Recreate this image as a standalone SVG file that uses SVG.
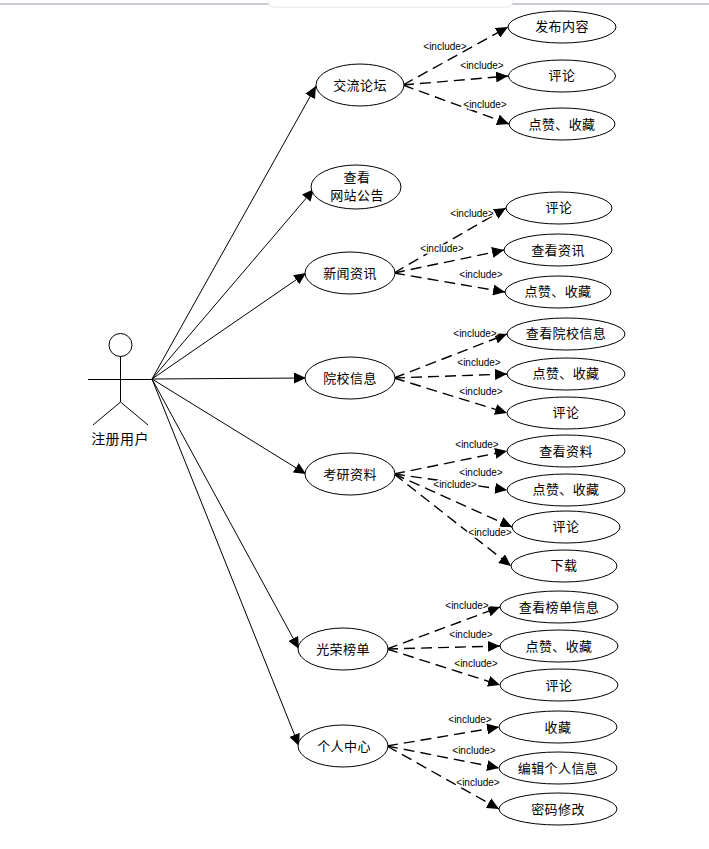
<svg xmlns="http://www.w3.org/2000/svg" width="709" height="849" viewBox="0 0 709 849">
<style>
.n{fill:#fff;stroke:#000;stroke-width:1}
.t{font:13px "Noto Sans CJK SC","Liberation Sans",sans-serif;text-anchor:middle;fill:#000;letter-spacing:.4px}
.i{font:10px "Liberation Sans",sans-serif;text-anchor:middle;fill:#000;stroke:#fff;stroke-width:3px;paint-order:stroke}
.a{fill:none;stroke:#000;stroke-width:1;marker-end:url(#m)}
.d{fill:none;stroke:#000;stroke-width:1.400;stroke-dasharray:11 6;marker-end:url(#m)}
.s{fill:none;stroke:#000;stroke-width:1}
</style>
<defs><marker id="m" markerUnits="userSpaceOnUse" markerWidth="13" markerHeight="11" refX="12" refY="5.500" orient="auto"><path d="M0 0L12 5.500L0 11Z" fill="#000"/></marker></defs>
<rect width="709" height="849" fill="#fff"/>
<g id="chrome"><rect x="0" y="3" width="709" height="2" fill="#c8ccd2"/><rect x="268" y="-10" width="245" height="18" rx="6" fill="#eee"/><rect x="269" y="-10" width="243" height="16.500" rx="5" fill="#fff"/></g>
<g id="connectors">
<path class="a" d="M152 379L316 86"/><path class="a" d="M152 379L314 189"/><path class="a" d="M152 379L306 273"/><path class="a" d="M152 379L306 378"/><path class="a" d="M152 379L306 474"/><path class="a" d="M152 379L299 649"/><path class="a" d="M152 379L299 746"/>
<path class="d" d="M403 85L508 27"/><path class="d" d="M403 85L508 76"/><path class="d" d="M403 85L509 124"/>
<path class="d" d="M394 273L506 208"/><path class="d" d="M394 273L504 250"/><path class="d" d="M394 273L505 292"/>
<path class="d" d="M394 378L507 334"/><path class="d" d="M394 378L507 374"/><path class="d" d="M394 378L507 413"/>
<path class="d" d="M394 474L507 451"/><path class="d" d="M394 474L507 490"/><path class="d" d="M394 474L512 527"/><path class="d" d="M394 474L511 566"/>
<path class="d" d="M387 649L500 607"/><path class="d" d="M387 649L500 646"/><path class="d" d="M387 649L500 685"/>
<path class="d" d="M387 746L499 727"/><path class="d" d="M387 746L499 768"/><path class="d" d="M387 746L499 809"/>
<g><text class="i" x="445" y="50">&lt;include&gt;</text><text class="i" x="482" y="69">&lt;include&gt;</text><text class="i" x="485" y="108">&lt;include&gt;</text>
<text class="i" x="472" y="217">&lt;include&gt;</text><text class="i" x="442" y="252">&lt;include&gt;</text><text class="i" x="481" y="278">&lt;include&gt;</text>
<text class="i" x="475" y="337">&lt;include&gt;</text><text class="i" x="479" y="366">&lt;include&gt;</text><text class="i" x="481" y="395">&lt;include&gt;</text>
<text class="i" x="477" y="448">&lt;include&gt;</text><text class="i" x="481" y="476">&lt;include&gt;</text><text class="i" x="455" y="488">&lt;include&gt;</text><text class="i" x="490" y="536">&lt;include&gt;</text>
<text class="i" x="467" y="609">&lt;include&gt;</text><text class="i" x="471" y="638">&lt;include&gt;</text><text class="i" x="476" y="667">&lt;include&gt;</text>
<text class="i" x="470" y="723">&lt;include&gt;</text><text class="i" x="474" y="754">&lt;include&gt;</text><text class="i" x="478" y="786">&lt;include&gt;</text></g>
</g>
<g id="actor"><circle class="s" cx="120.500" cy="345" r="11.500"/><path class="s" d="M120.500 356V402M88 379.500H152M120.500 402L93 425M120.500 402L148 425"/><text class="t" x="120" y="444" style="font-size:14px">注册用户</text></g>
<g id="n1"><ellipse class="n" cx="360" cy="85" rx="44" ry="21"/><text class="t" x="360" y="90">交流论坛</text></g>
<g id="n2"><ellipse class="n" cx="356" cy="187" rx="45" ry="22"/><text class="t" x="357" y="182">查看</text><text class="t" x="357" y="200">网站公告</text></g>
<g id="n3"><ellipse class="n" cx="350" cy="273" rx="45" ry="21"/><text class="t" x="350" y="278">新闻资讯</text></g>
<g id="n4"><ellipse class="n" cx="350" cy="378" rx="45" ry="21"/><text class="t" x="350" y="383">院校信息</text></g>
<g id="n5"><ellipse class="n" cx="350" cy="474" rx="45" ry="21"/><text class="t" x="350" y="479">考研资料</text></g>
<g id="n6"><ellipse class="n" cx="343" cy="649" rx="45" ry="21"/><text class="t" x="343" y="654">光荣榜单</text></g>
<g id="n7"><ellipse class="n" cx="343" cy="746" rx="45" ry="21"/><text class="t" x="344" y="751">个人中心</text></g>
<g id="a1"><ellipse class="n" cx="562" cy="27" rx="54" ry="16"/><text class="t" x="562" y="31">发布内容</text></g>
<g id="a2"><ellipse class="n" cx="562" cy="76" rx="53.500" ry="16"/><text class="t" x="562" y="80">评论</text></g>
<g id="a3"><ellipse class="n" cx="562" cy="124" rx="53" ry="16"/><text class="t" x="562" y="129">点赞、收藏</text></g>
<g id="b1"><ellipse class="n" cx="559" cy="208" rx="53" ry="16"/><text class="t" x="559" y="212">评论</text></g>
<g id="b2"><ellipse class="n" cx="558" cy="250" rx="54" ry="16"/><text class="t" x="558" y="255">查看资讯</text></g>
<g id="b3"><ellipse class="n" cx="558" cy="292" rx="53" ry="16"/><text class="t" x="558" y="296">点赞、收藏</text></g>
<g id="c1"><ellipse class="n" cx="566" cy="334" rx="59" ry="16"/><text class="t" x="566" y="338">查看院校信息</text></g>
<g id="c2"><ellipse class="n" cx="566" cy="374" rx="59" ry="16"/><text class="t" x="566" y="378">点赞、收藏</text></g>
<g id="c3"><ellipse class="n" cx="566" cy="413" rx="59" ry="16"/><text class="t" x="566" y="417">评论</text></g>
<g id="d1"><ellipse class="n" cx="566" cy="451" rx="59" ry="16"/><text class="t" x="566" y="456">查看资料</text></g>
<g id="d2"><ellipse class="n" cx="566" cy="490" rx="59" ry="16"/><text class="t" x="566" y="494">点赞、收藏</text></g>
<g id="d3"><ellipse class="n" cx="566" cy="527" rx="54" ry="16"/><text class="t" x="566" y="531">评论</text></g>
<g id="d4"><ellipse class="n" cx="564" cy="566" rx="53" ry="16"/><text class="t" x="564" y="570">下载</text></g>
<g id="e1"><ellipse class="n" cx="559" cy="607" rx="59" ry="16"/><text class="t" x="559" y="612">查看榜单信息</text></g>
<g id="e2"><ellipse class="n" cx="559" cy="646" rx="59" ry="16"/><text class="t" x="559" y="651">点赞、收藏</text></g>
<g id="e3"><ellipse class="n" cx="559" cy="685" rx="59" ry="16"/><text class="t" x="559" y="690">评论</text></g>
<g id="f1"><ellipse class="n" cx="558" cy="727" rx="59" ry="16"/><text class="t" x="558" y="732">收藏</text></g>
<g id="f2"><ellipse class="n" cx="558" cy="768" rx="59" ry="16"/><text class="t" x="558" y="773">编辑个人信息</text></g>
<g id="f3"><ellipse class="n" cx="558" cy="809" rx="59" ry="16"/><text class="t" x="558" y="814">密码修改</text></g>
</svg>
